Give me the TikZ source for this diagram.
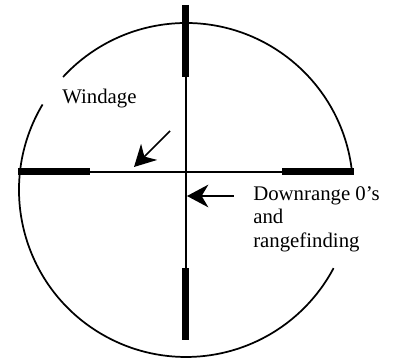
\documentclass[tikz,border=0pt]{standalone}
\usepackage{fontspec}
\setmainfont{Liberation Serif}
\usetikzlibrary{arrows.meta}

\begin{document}
\begin{tikzpicture}[
 x=0.75pt,y=0.75pt,
 bar/.style={line width=5.25pt},
 hair/.style={line width=1.1pt},
 rim/.style={line width=1.3pt},
 flow/.style={-{Stealth[length=16pt,width=17pt,inset=5pt]},line width=1.2pt},
 note/.style={font=\fontsize{15.6pt}{17.8pt}\selectfont,inner sep=0pt,align=left}]
\useasboundingbox (0,0) rectangle (394,358);
\coordinate (c) at (186,168);
% reticle ring, broken where the labels sit
\draw[rim] (c) ++(6.2:167) arc[start angle=6.2,end angle=137.4,radius=167];
\draw[rim] (c) ++(149.2:167) arc[start angle=149.2,end angle=332.1,radius=167];
% crosshair
\coordinate (top) at (186,353);
\coordinate (topin) at (186,281);
\coordinate (bot) at (186,18);
\coordinate (botin) at (186,90);
\coordinate (lft) at (18,186);
\coordinate (lftin) at (90,186);
\coordinate (rgt) at (354,186);
\coordinate (rgtin) at (282,186);
\draw[hair] (topin) -- (botin);
\draw[hair] (lftin) -- (rgtin);
\draw[bar] (top) -- (topin);
\draw[bar] (bot) -- (botin);
\draw[bar] (lft) -- (lftin);
\draw[bar] (rgt) -- (rgtin);
% labels
\node[note,anchor=base west] (windage) at (62,254) {Windage};
\node[note,anchor=north west] (downrange) at (253,172) {Downrange 0’s\\and\\rangefinding};
% pointers
\coordinate (wstart) at (170,227);
\coordinate (wtip) at (134,191);
\coordinate (dstart) at (234,162);
\coordinate (dtip) at (187,162);
\draw[flow] (wstart) -- (wtip);
\draw[flow] (dstart) -- (dtip);
\end{tikzpicture}
\end{document}
